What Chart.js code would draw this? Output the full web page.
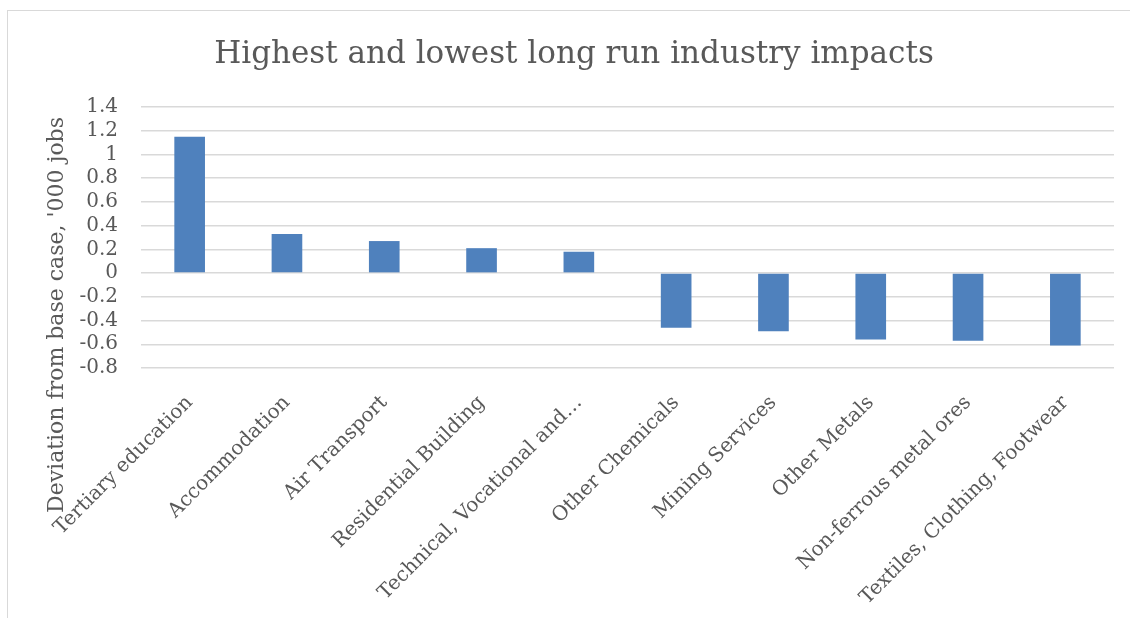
<!DOCTYPE html>
<html lang="en">
<head>
  <meta charset="UTF-8" />
  <title>Highest and lowest long run industry impacts</title>
  <script src="https://cdn.jsdelivr.net/npm/chart.js"></script>
  <style>
    * {
      box-sizing: border-box;
    }
    body {
      margin: 0;
      background: #fff;
      overflow: hidden;
    }
    .frame {
      position: absolute;
      left: 7px;
      top: 10px;
      width: 1200px;
      height: 700px;
      border: 1px solid #d9d9d9;
    }
    .wrap {
      position: absolute;
      left: 0;
      top: 0;
      width: 1130px;
      height: 618px;
    }
  </style>
</head>
<body>
  <div class="frame"></div>
  <div class="wrap">
    <canvas id="chart" width="1130" height="618"></canvas>
  </div>
  <script>
  const categories = [
    "Tertiary education",
    "Accommodation",
    "Air Transport",
    "Residential Building",
    "Technical, Vocational and…",
    "Other Chemicals",
    "Mining Services",
    "Other Metals",
    "Non-ferrous metal ores",
    "Textiles, Clothing, Footwear"
  ];
  const deviation = [1.15, 0.33, 0.27, 0.21, 0.18, -0.46, -0.49, -0.56, -0.57, -0.61];
  const yTicks = [-0.8, -0.6, -0.4, -0.2, 0, 0.2, 0.4, 0.6, 0.8, 1, 1.2, 1.4];

  const textColor = "#595959";
  const serif = "'DejaVu Serif', 'Liberation Serif', serif";

  // Excel puts the axis title in the middle of the whole left side, not just the plot
  const yTitle = {
    id: "yTitle",
    afterDraw(chart) {
      const ctx = chart.ctx;
      ctx.save();
      ctx.translate(57, 315);
      ctx.rotate(-Math.PI / 2);
      ctx.font = "22px " + serif;
      ctx.fillStyle = textColor;
      ctx.textAlign = "center";
      ctx.textBaseline = "middle";
      ctx.fillText("Deviation from base case, '000 jobs", 0, 0);
      ctx.restore();
    }
  };

  new Chart(document.getElementById("chart"), {
    type: "bar",
    data: {
      labels: categories,
      datasets: [{
        data: deviation,
        backgroundColor: "#4f81bd",
        borderWidth: 0,
        barPercentage: 0.315,
        categoryPercentage: 1.0
      }]
    },
    options: {
      responsive: false,
      animation: false,
      layout: {
        padding: { left: 34, right: 16, top: 0, bottom: 0 }
      },
      plugins: {
        legend: { display: false },
        tooltip: { enabled: false },
        title: {
          display: true,
          text: "Highest and lowest long run industry impacts",
          color: textColor,
          font: { family: serif, size: 31, weight: "normal" },
          padding: { top: 36, bottom: 33.8 }
        }
      },
      scales: {
        x: {
          grid: { display: false, drawTicks: false },
          border: { display: false },
          ticks: {
            color: textColor,
            font: { family: serif, size: 20 },
            minRotation: 45,
            maxRotation: 45,
            autoSkip: false,
            padding: 23,
            labelOffset: 0
          },
          afterFit(scale) {
            scale.height = 250;
          }
        },
        y: {
          min: yTicks[0],
          max: yTicks[yTicks.length - 1],
          grid: { color: "#d9d9d9", lineWidth: 1.5, drawTicks: false },
          border: { display: false },
          ticks: {
            stepSize: 0.2,
            autoSkip: false,
            color: textColor,
            font: { family: serif, size: 20 },
            padding: 23,
            callback: (v) => String(Math.round(v * 10) / 10)
          },
          afterFit(scale) {
            scale.width = 107;
          }
        }
      }
    },
    plugins: [yTitle]
  });
  </script>
</body>
</html>
